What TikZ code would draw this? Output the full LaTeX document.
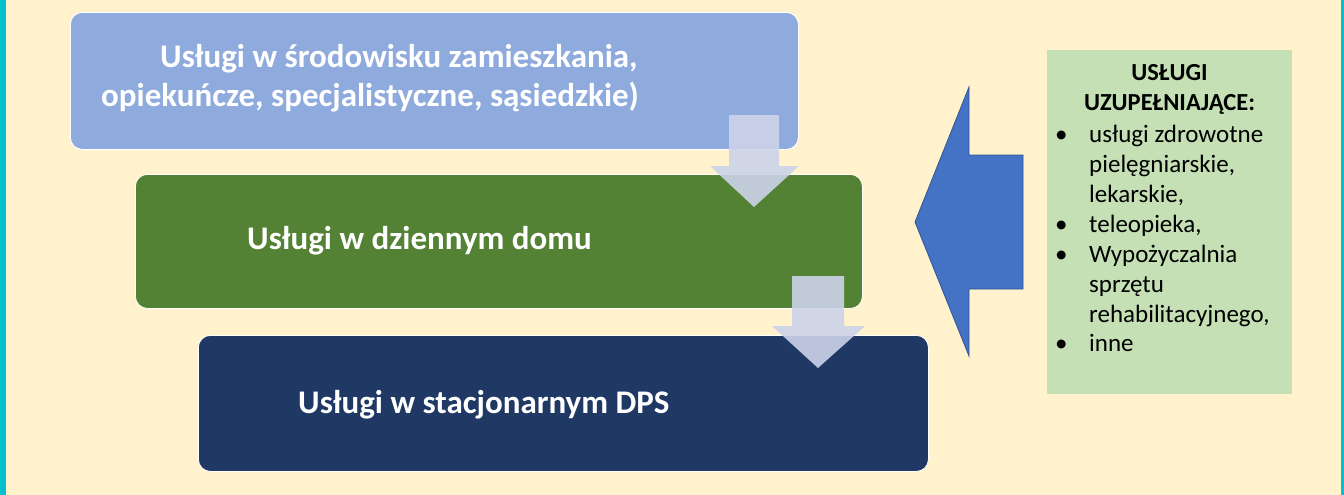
\documentclass[tikz,border=0pt]{standalone}
\usepackage{fontspec}
\setmainfont{Carlito}
\definecolor{bgc}{HTML}{FFF2CC}
\definecolor{stripe}{HTML}{00C1CD}
\definecolor{cone}{HTML}{8FAADC}
\definecolor{ctwo}{HTML}{548235}
\definecolor{cthree}{HTML}{203864}
\definecolor{larrow}{HTML}{4472C4}
\definecolor{larrowb}{HTML}{2F5597}
\definecolor{gbox}{HTML}{C5E0B4}
\definecolor{darrow}{HTML}{CDD3EA}
\tikzset{
  stage/.style={draw=white, line width=0.8pt, rounded corners=12pt, anchor=north west, inner sep=0pt},
  stagetext/.style={anchor=base west, inner sep=0pt, text=white, font=\fontsize{33}{39}\selectfont\bfseries},
  downarrow/.style={fill=darrow, fill opacity=0.9},
  sidearrow/.style={fill=larrow, draw=larrowb, line width=0.8pt},
  listtext/.style={inner sep=0pt, text=black, font=\fontsize{25}{30}\selectfont}
}
\begin{document}
\begin{tikzpicture}[x=1pt,y=-1pt]
\useasboundingbox (0,0) rectangle (1344,495);
\fill[bgc] (0,0) rectangle (1344,495);
\fill[stripe] (0,0) rectangle (6,495);
\fill[stripe] (1341,0) rectangle (1344,495);

% stage boxes
\node[stage, fill=cone, minimum width=728pt, minimum height=137pt] (b1) at (70,12) {};
\node[stage, fill=ctwo, minimum width=727pt, minimum height=134pt] (b2) at (135,174) {};
\node[stage, fill=cthree, minimum width=730pt, minimum height=136pt] (b3) at (198,335) {};

\node[stagetext] (t1) at (101,68) {\begin{tabular}[t]{@{}l@{}}\hspace*{59pt}Usługi w środowisku zamieszkania,\\opiekuńcze, specjalistyczne, sąsiedzkie)\end{tabular}};
\node[stagetext] (t2) at (247,249) {Usługi w dziennym domu};
\node[stagetext] (t3) at (298,413) {Usługi w stacjonarnym DPS};

% down arrows
\fill[downarrow] (729,115) -- (779,115) -- (779,166) -- (799,166) -- (754,207) -- (710,166) -- (729,166) -- cycle;
\fill[downarrow] (792,276) -- (844,276) -- (844,326) -- (865,326) -- (818,368) -- (772,326) -- (792,326) -- cycle;

% side arrow
\draw[sidearrow] (915,222) -- (969,87) -- (969,155) -- (1023,155) -- (1023,289) -- (969,289) -- (969,356) -- cycle;

% supplementary box
\node[fill=gbox, anchor=north west, minimum width=245pt, minimum height=344pt, inner sep=0pt] (g) at (1047,50) {};
\node[listtext, anchor=base, font=\fontsize{24.5}{30}\selectfont\bfseries] (gt) at (1169.5,80.7) {\begin{tabular}[t]{@{}c@{}}USŁUGI\\UZUPEŁNIAJĄCE:\end{tabular}};
\node[listtext, anchor=base west] (gl) at (1055,142) {\begin{tabular}[t]{@{}l@{}l@{}}
\makebox[34pt][l]{•} & usługi zdrowotne\\
 & pielęgniarskie,\\
 & lekarskie,\\
\makebox[34pt][l]{•} & teleopieka,\\
\makebox[34pt][l]{•} & Wypożyczalnia\\
 & sprzętu\\
 & rehabilitacyjnego,\\
\makebox[34pt][l]{•} & inne
\end{tabular}};
\end{tikzpicture}
\end{document}
